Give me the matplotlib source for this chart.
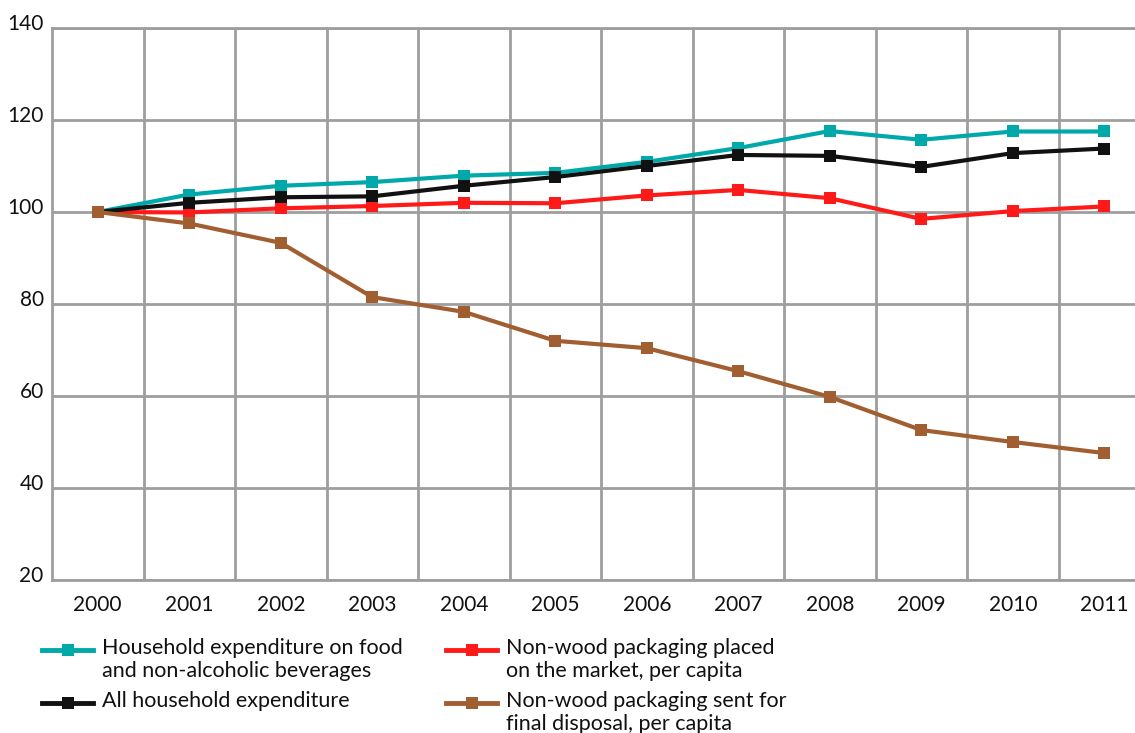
import matplotlib; matplotlib.use('Agg')
import matplotlib.pyplot as plt
from matplotlib.lines import Line2D
from matplotlib.transforms import ScaledTranslation
import numpy as np

years = ['2000', '2001', '2002', '2003', '2004', '2005',
         '2006', '2007', '2008', '2009', '2010', '2011']
food = [100, 103.8, 105.7, 106.5, 107.9, 108.5, 110.9, 113.9, 117.6, 115.7, 117.5, 117.5]
all_exp = [100, 102.0, 103.2, 103.4, 105.7, 107.6, 110.0, 112.4, 112.2, 109.8, 112.8, 113.8]
placed = [100, 99.9, 100.8, 101.3, 102.0, 101.9, 103.6, 104.8, 103.0, 98.5, 100.2, 101.2]
disposal = [100, 97.5, 93.3, 81.5, 78.3, 72.0, 70.4, 65.4, 59.8, 52.6, 50.0, 47.6]

labels = ['Household expenditure on food\nand non-alcoholic beverages',
          'All household expenditure',
          'Non-wood packaging placed\non the market, per capita',
          'Non-wood packaging sent for\nfinal disposal, per capita']
colors = ['#00A9A9', '#111111', '#FF1A1A', '#A15E30']

plt.rcParams['font.family'] = ['Lato', 'DejaVu Sans']
GRID = '#9E9E9E'
FS = 15

fig = plt.figure(figsize=(11.35, 7.33), dpi=100)
W, H = 1135, 733
ax = fig.add_axes([52 / W, (H - 580) / H, (1150 - 52) / W, (580 - 28) / H])

x = np.arange(len(years))
for vals, c in zip([food, placed, all_exp, disposal],
                   [colors[0], colors[2], colors[1], colors[3]]):
    ax.plot(x, vals, color=c, lw=3, marker='s', ms=9,
            markerfacecolor=c, markeredgewidth=0, zorder=3)

ax.set_xlim(-0.5, 11.5)
ax.set_ylim(20, 140)
ax.set_yticks(range(20, 141, 20))
ax.set_xticks(x)
ax.set_xticklabels(years)
ax.set_xticks(np.arange(0.5, 11.5, 1), minor=True)
ax.tick_params(which='both', length=0)
ax.tick_params(axis='x', pad=11, labelsize=FS, labelcolor='#111111')
ax.tick_params(axis='y', pad=6, labelsize=FS, labelcolor='#111111')
for t in ax.get_yticklabels():
    t.set_va('baseline')
    t.set_transform(t.get_transform() + ScaledTranslation(0, -2 / 100, fig.dpi_scale_trans))
ax.grid(True, which='major', axis='y', color=GRID, lw=2)
ax.grid(True, which='minor', axis='x', color=GRID, lw=2)
for s in ['top', 'left', 'bottom']:
    ax.spines[s].set_color(GRID)
    ax.spines[s].set_linewidth(2)
ax.spines['right'].set_visible(False)

# legend, two columns below the plot
key_pos = [(42, 650), (42, 703), (446, 650), (446, 703)]
for (kx, ky), c, lab in zip(key_pos, colors, labels):
    fy = (H - ky) / H
    fig.add_artist(Line2D([kx / W, (kx + 51) / W], [fy, fy], color=c, lw=3.5))
    fig.add_artist(Line2D([(kx + 25.5) / W], [fy], color=c, marker='s', ms=9, markeredgewidth=0))
    fig.text((kx + 60) / W, (H - (ky - 12)) / H, lab, fontsize=15.5, va='top', ha='left',
             linespacing=1.17, color='#111111')

fig.savefig('out.png', dpi=100)
